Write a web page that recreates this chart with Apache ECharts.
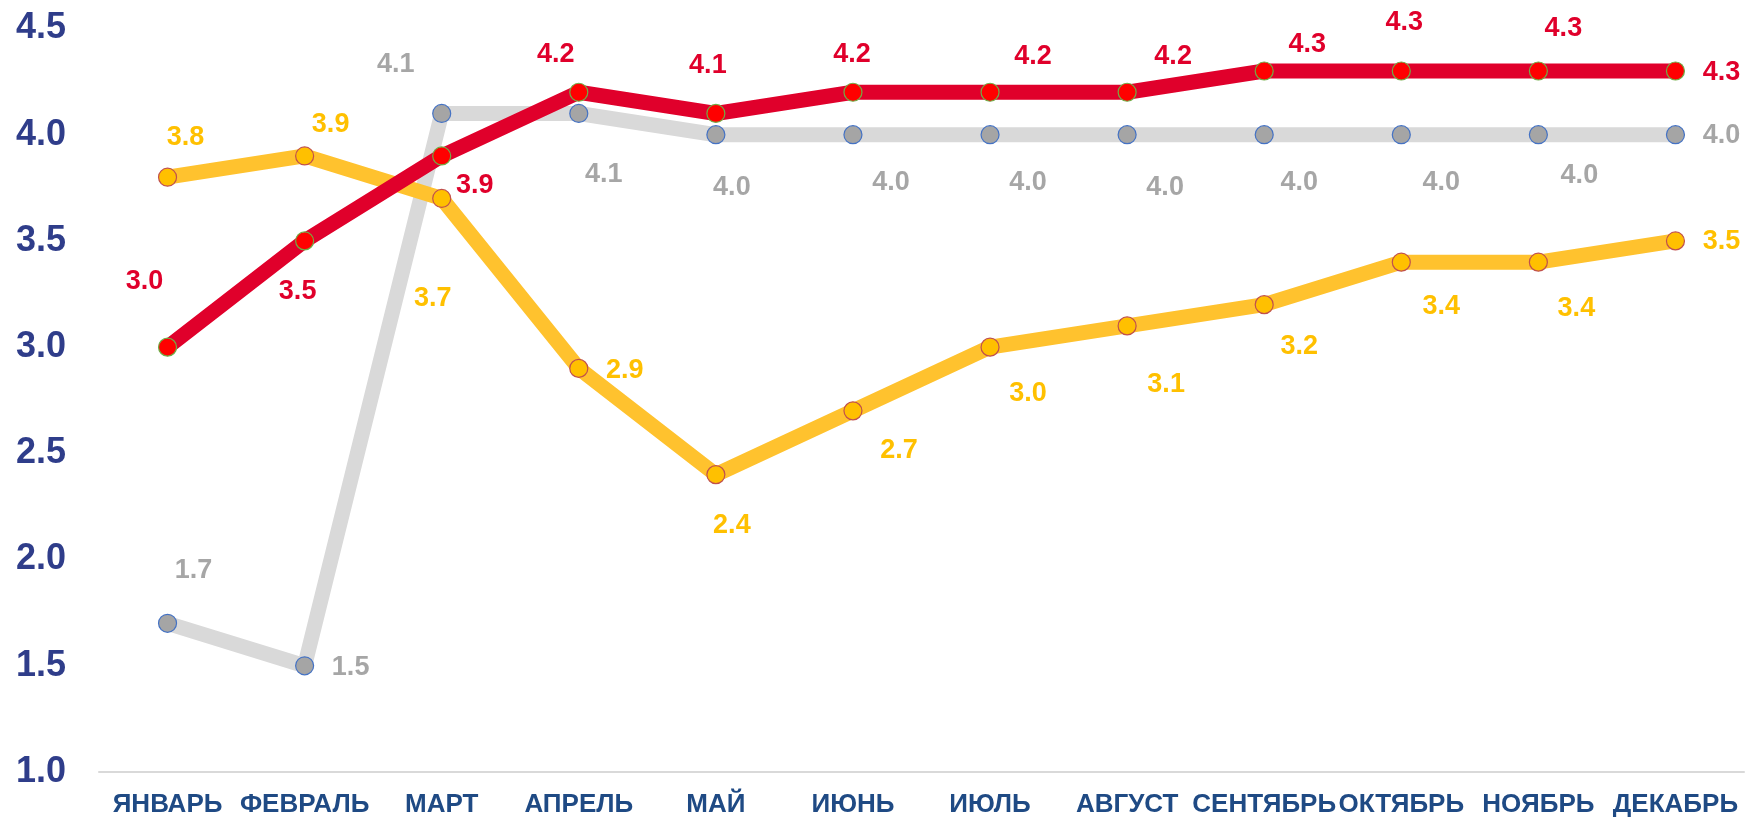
<!DOCTYPE html>
<html>
<head>
<meta charset="utf-8">
<title>chart</title>
<script src="https://cdn.jsdelivr.net/npm/echarts@6/dist/echarts.min.js"></script>
<style>
  html, body {
    margin: 0;
    padding: 0;
    background: #ffffff;
  }
  #mainchart {
    width: 1746px;
    height: 818px;
  }
</style>
</head>
<body>
<div id="mainchart"></div>
<script>
// месяцы
const months = ["ЯНВАРЬ", "ФЕВРАЛЬ", "МАРТ", "АПРЕЛЬ", "МАЙ", "ИЮНЬ", "ИЮЛЬ", "АВГУСТ", "СЕНТЯБРЬ", "ОКТЯБРЬ", "НОЯБРЬ", "ДЕКАБРЬ"];

// три ряда значений
const redValues = [3.0, 3.5, 3.9, 4.2, 4.1, 4.2, 4.2, 4.2, 4.3, 4.3, 4.3, 4.3];
const grayValues = [1.7, 1.5, 4.1, 4.1, 4.0, 4.0, 4.0, 4.0, 4.0, 4.0, 4.0, 4.0];
const yellowValues = [3.8, 3.9, 3.7, 2.9, 2.4, 2.7, 3.0, 3.1, 3.2, 3.4, 3.4, 3.5];

// шкала Y
const yMin = 1.0;
const yMax = 4.5;
const yStep = 0.5;

// сдвиги подписей от точки (как расставлены вручную в исходнике)
const redLabelShift = [[-23, -66], [-7, 51], [33, 30], [-23, -38], [-8, -48], [-1, -38], [43, -36], [46, -36], [43, -26], [3, -48], [25, -42], [46, 2]];
const grayLabelShift = [[26, -53], [46, 2], [-46, -49], [25, 61], [16, 53], [38, 48], [38, 48], [38, 53], [35, 48], [40, 48], [41, 41], [46, 1]];
const yellowLabelShift = [[18, -40], [26, -31], [-9, 100], [46, 2], [16, 51], [46, 40], [38, 46], [39, 59], [35, 42], [40, 44], [38, 46], [46, 1]];

const fontName = '"Liberation Sans", Arial, sans-serif';

function buildData(values, shifts) {
  return values.map(function (v, i) {
    return { value: v, label: { offset: shifts[i] } };
  });
}

function makeSeries(name, values, shifts, lineColor, dotColor, dotBorder, textColor) {
  return {
    name: name,
    type: "line",
    data: buildData(values, shifts),
    symbol: "circle",
    symbolSize: 18,
    lineStyle: { color: lineColor, width: 15 },
    itemStyle: { color: dotColor, borderColor: dotBorder, borderWidth: 1.2 },
    label: {
      show: true,
      position: "inside",
      color: textColor,
      fontFamily: fontName,
      fontWeight: "bold",
      fontSize: 27,
      formatter: function (p) {
        return p.value.toFixed(1);
      },
    },
    emphasis: { disabled: true },
  };
}

let chart = echarts.init(document.getElementById("mainchart"));

const option = {
  animation: false,
  backgroundColor: "#ffffff",
  grid: {
    left: 99,
    right: 2,
    top: 28.5,
    bottom: 44.6,
  },
  xAxis: {
    type: "category",
    data: months,
    boundaryGap: true,
    axisLine: { show: true, lineStyle: { color: "#d9d9d9", width: 2 } },
    axisTick: { show: false },
    axisLabel: {
      interval: 0,
      margin: 20,
      color: "#1f4a84",
      fontFamily: fontName,
      fontWeight: "bold",
      fontSize: 26,
    },
  },
  yAxis: {
    type: "value",
    min: yMin,
    max: yMax,
    interval: yStep,
    axisLine: { show: false },
    axisTick: { show: false },
    splitLine: { show: false },
    axisLabel: {
      margin: 33,
      color: "#2f3d8a",
      fontFamily: fontName,
      fontWeight: "bold",
      fontSize: 36,
      formatter: function (v) {
        return v.toFixed(1);
      },
    },
  },
  series: [
    makeSeries("gray", grayValues, grayLabelShift, "#d9d9d9", "#a5a5a5", "#4472c4", "#a6a6a6"),
    makeSeries("yellow", yellowValues, yellowLabelShift, "#ffc22e", "#ffc000", "#c0504d", "#ffc000"),
    makeSeries("red", redValues, redLabelShift, "#e0002b", "#ff0000", "#70ad47", "#e0002b"),
  ],
};

chart.setOption(option);
</script>
</body>
</html>
